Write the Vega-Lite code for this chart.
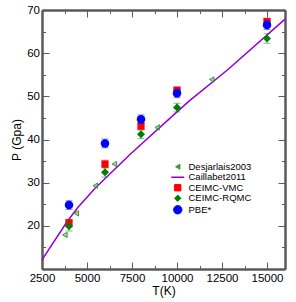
{
  "$schema": "https://vega.github.io/schema/vega-lite/v6.json",
  "width": 243,
  "height": 259,
  "autosize": "none",
  "padding": {"left": 42, "top": 10, "right": 11, "bottom": 33},
  "background": "white",
  "config": {
    "view": {"stroke": null},
    "font": "Liberation Sans",
    "axis": {
      "grid": false,
      "domainColor": "#5a5a5a",
      "domainWidth": 2,
      "tickColor": "#5a5a5a",
      "tickWidth": 1,
      "labelFont": "Liberation Sans",
      "labelFontSize": 11.5,
      "labelColor": "#000000",
      "labelOverlap": false,
      "labelFlush": false,
      "titleFont": "Liberation Sans",
      "titleFontSize": 12,
      "titleFontWeight": "normal",
      "titleColor": "#000000"
    }
  },
  "data": {
    "values": [
      {"series": "Caillabet2011", "T": 2500, "P": 12.1, "err": 0},
      {"series": "Caillabet2011", "T": 3900, "P": 21.0, "err": 0},
      {"series": "Caillabet2011", "T": 4500, "P": 24.3, "err": 0},
      {"series": "Caillabet2011", "T": 5450, "P": 28.7, "err": 0},
      {"series": "Caillabet2011", "T": 7400, "P": 36.6, "err": 0},
      {"series": "Caillabet2011", "T": 10000, "P": 46.4, "err": 0},
      {"series": "Caillabet2011", "T": 10700, "P": 49.0, "err": 0},
      {"series": "Caillabet2011", "T": 12800, "P": 56.1, "err": 0},
      {"series": "Caillabet2011", "T": 16000, "P": 67.9, "err": 0},
      {"series": "Desjarlais2003", "T": 3770, "P": 17.9, "err": 0},
      {"series": "Desjarlais2003", "T": 4400, "P": 22.9, "err": 0},
      {"series": "Desjarlais2003", "T": 5460, "P": 29.3, "err": 0},
      {"series": "Desjarlais2003", "T": 6520, "P": 34.3, "err": 0},
      {"series": "Desjarlais2003", "T": 8900, "P": 42.8, "err": 0},
      {"series": "Desjarlais2003", "T": 11930, "P": 53.9, "err": 0},
      {"series": "CEIMC-VMC", "T": 4000, "P": 20.7, "err": 0.8},
      {"series": "CEIMC-VMC", "T": 6000, "P": 34.3, "err": 0.9},
      {"series": "CEIMC-VMC", "T": 8000, "P": 43.1, "err": 0.8},
      {"series": "CEIMC-VMC", "T": 10000, "P": 51.4, "err": 0.8},
      {"series": "CEIMC-VMC", "T": 15000, "P": 67.3, "err": 0.8},
      {"series": "CEIMC-RQMC", "T": 4000, "P": 19.9, "err": 1.1},
      {"series": "CEIMC-RQMC", "T": 6000, "P": 32.4, "err": 1.1},
      {"series": "CEIMC-RQMC", "T": 8000, "P": 41.2, "err": 1.0},
      {"series": "CEIMC-RQMC", "T": 10000, "P": 47.4, "err": 1.0},
      {"series": "CEIMC-RQMC", "T": 15000, "P": 63.4, "err": 1.1},
      {"series": "PBE*", "T": 4000, "P": 24.8, "err": 1.0},
      {"series": "PBE*", "T": 6000, "P": 39.1, "err": 1.0},
      {"series": "PBE*", "T": 8000, "P": 44.7, "err": 1.0},
      {"series": "PBE*", "T": 10000, "P": 50.7, "err": 1.0},
      {"series": "PBE*", "T": 15000, "P": 66.5, "err": 1.0}
    ]
  },
  "resolve": {"axis": {"x": "independent", "y": "independent"}},
  "layer": [
    {
      "transform": [{"filter": "datum.series === 'Caillabet2011'"}],
      "mark": {"type": "line", "strokeWidth": 1.5},
      "encoding": {
        "x": {"field": "T", "type": "quantitative", "scale": {"domain": [2500, 16000], "nice": false, "zero": false},
          "axis": {"orient": "bottom", "values": [2500, 5000, 7500, 10000, 12500, 15000], "tickSize": -7, "labelPadding": 10, "format": "d", "title": "T(K)", "titlePadding": 2}},
        "y": {"field": "P", "type": "quantitative", "scale": {"domain": [10, 70], "nice": false, "zero": false},
          "axis": {"orient": "left", "values": [20, 30, 40, 50, 60, 70], "tickSize": -7, "labelPadding": 9.5, "title": "P (Gpa)", "titlePadding": 3}},
        "color": {"field": "series", "type": "nominal",
          "scale": {"domain": ["Desjarlais2003", "Caillabet2011", "CEIMC-VMC", "CEIMC-RQMC", "PBE*"], "range": ["#3a9a3a", "#9400d3", "#ff0000", "#008000", "#0000ff"]},
          "legend": {
            "orient": "none", "legendX": 131, "legendY": 152, "title": null,
            "labelFont": "Liberation Sans", "labelFontSize": 9.5, "labelColor": "#000000",
            "symbolSize": 50, "rowPadding": -0.5, "padding": 0, "labelOffset": 6,
            "encode": {
              "symbols": {
                "update": {
                  "shape": {"signal": "scale('shape', datum.value)"},
                  "size": {"signal": "datum.value === 'Caillabet2011' ? 170 : datum.value === 'PBE*' ? 70 : datum.value === 'Desjarlais2003' ? 25 : 40"},
                  "fill": {"signal": "datum.value === 'Caillabet2011' ? 'transparent' : datum.value === 'Desjarlais2003' ? '#9fd49f' : scale('color', datum.value)"},
                  "stroke": {"signal": "datum.value === 'Caillabet2011' ? '#b060e0' : datum.value === 'Desjarlais2003' ? '#3a9a3a' : 'transparent'"},
                  "strokeWidth": {"signal": "datum.value === 'Caillabet2011' ? 1.5 : 1"},
                  "opacity": {"value": 1}
                }
              }
            }
          }
        }
      }
    },
    {
      "transform": [{"filter": "datum.series === 'Desjarlais2003'"}],
      "mark": {"type": "point", "filled": true, "size": 28, "fillOpacity": 0.45, "stroke": "#3a9a3a", "strokeWidth": 1, "opacity": 1},
      "encoding": {
        "x": {"field": "T", "type": "quantitative", "scale": {"domain": [2500, 16000], "nice": false, "zero": false},
          "axis": {"orient": "bottom", "values": [3750, 6250, 8750, 11250, 13750], "tickSize": -3.5, "labels": false, "title": null}},
        "y": {"field": "P", "type": "quantitative", "scale": {"domain": [10, 70], "nice": false, "zero": false},
          "axis": {"orient": "left", "values": [15, 25, 35, 45, 55, 65], "tickSize": -3.5, "labels": false, "title": null}},
        "color": {"field": "series", "type": "nominal"},
        "shape": {"field": "series", "type": "nominal",
          "scale": {"domain": ["Desjarlais2003", "Caillabet2011", "CEIMC-VMC", "CEIMC-RQMC", "PBE*"], "range": ["triangle-left", "stroke", "square", "diamond", "circle"]},
          "legend": null}
      }
    },
    {
      "transform": [{"filter": "datum.series === 'CEIMC-VMC'"}],
      "mark": {"type": "errorbar", "ticks": {"size": 7}, "opacity": 0.5},
      "encoding": {
        "x": {"field": "T", "type": "quantitative", "axis": null},
        "y": {"field": "P", "type": "quantitative", "axis": null},
        "yError": {"field": "err"},
        "color": {"field": "series", "type": "nominal"}
      }
    },
    {
      "transform": [{"filter": "datum.series === 'CEIMC-VMC'"}],
      "mark": {"type": "point", "filled": true, "size": 52, "opacity": 1},
      "encoding": {
        "x": {"field": "T", "type": "quantitative",
          "axis": {"orient": "top", "values": [2500, 5000, 7500, 10000, 12500, 15000], "tickSize": -7, "labels": false, "title": null}},
        "y": {"field": "P", "type": "quantitative",
          "axis": {"orient": "right", "values": [20, 30, 40, 50, 60, 70], "tickSize": -7, "labels": false, "title": null}},
        "color": {"field": "series", "type": "nominal"},
        "shape": {"field": "series", "type": "nominal", "legend": null}
      }
    },
    {
      "transform": [{"filter": "datum.series === 'CEIMC-RQMC'"}],
      "mark": {"type": "errorbar", "ticks": {"size": 7}, "opacity": 0.5},
      "encoding": {
        "x": {"field": "T", "type": "quantitative", "axis": null},
        "y": {"field": "P", "type": "quantitative", "axis": null},
        "yError": {"field": "err"},
        "color": {"field": "series", "type": "nominal"}
      }
    },
    {
      "transform": [{"filter": "datum.series === 'CEIMC-RQMC'"}],
      "mark": {"type": "point", "filled": true, "size": 64, "opacity": 1},
      "encoding": {
        "x": {"field": "T", "type": "quantitative",
          "axis": {"orient": "top", "values": [3750, 6250, 8750, 11250, 13750], "tickSize": -3.5, "labels": false, "title": null}},
        "y": {"field": "P", "type": "quantitative",
          "axis": {"orient": "right", "values": [15, 25, 35, 45, 55, 65], "tickSize": -3.5, "labels": false, "title": null}},
        "color": {"field": "series", "type": "nominal"},
        "shape": {"field": "series", "type": "nominal", "legend": null}
      }
    },
    {
      "transform": [{"filter": "datum.series === 'PBE*'"}],
      "mark": {"type": "errorbar", "ticks": {"size": 7}, "opacity": 0.5},
      "encoding": {
        "x": {"field": "T", "type": "quantitative", "axis": null},
        "y": {"field": "P", "type": "quantitative", "axis": null},
        "yError": {"field": "err"},
        "color": {"field": "series", "type": "nominal"}
      }
    },
    {
      "transform": [{"filter": "datum.series === 'PBE*'"}],
      "mark": {"type": "point", "filled": true, "size": 72, "opacity": 1},
      "encoding": {
        "x": {"field": "T", "type": "quantitative", "axis": null},
        "y": {"field": "P", "type": "quantitative", "axis": null},
        "color": {"field": "series", "type": "nominal"},
        "shape": {"field": "series", "type": "nominal", "legend": null}
      }
    }
  ]
}
